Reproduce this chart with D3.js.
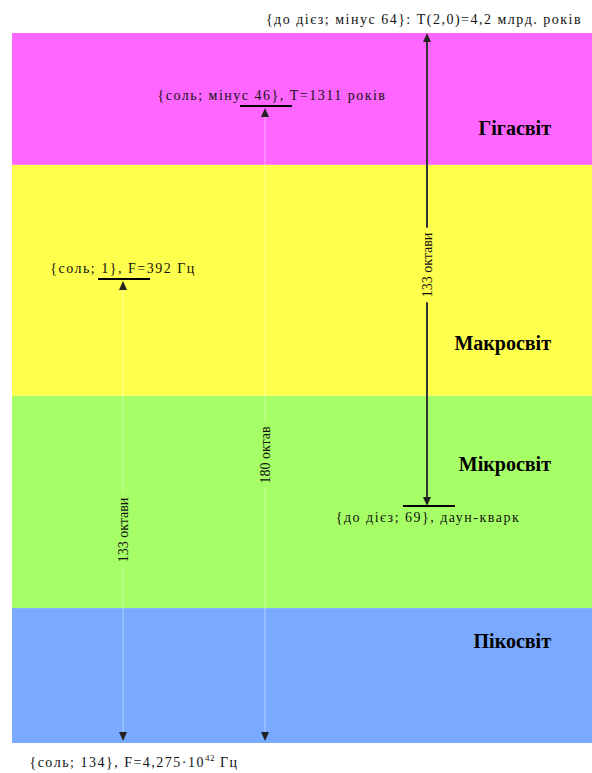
<!DOCTYPE html>
<html><head><meta charset="utf-8">
<script src="https://cdn.jsdelivr.net/npm/d3@7"></script>
<style>html,body{margin:0;padding:0;background:#fff;}svg{display:block;}</style>
</head><body>
<script>
// ---- data (octave positions) ----
const bandNames = ["Гігасвіт", "Макросвіт", "Мікросвіт", "Пікосвіт"];
const bandEdges = [-64, -30, 36, 97, 134];           // octave boundaries of the bands
const bandColors = ["#ff66ff", "#ffff4d", "#a6ff66", "#7aaaff"];
const markNotes = ["{до дієз; мінус 64}: T(2,0)=4,2 млрд. років",
                   "{соль; мінус 46}, T=1311 років",
                   "{соль; 1}, F=392 Гц",
                   "{до дієз; 69}, даун-кварк",
                   "{соль; 134}, F=4,275·10"];
const markOctaves = [-64, -46, 1, 69, 134];
const spanLabels = ["133 октави", "180 октав", "133 октави"];
const spanFrom = [-64, -46, 1];
const spanTo = [69, 134, 134];

// ---- layout ----
const W = 592, H = 773;
const svg = d3.select("body").append("svg").attr("width", W).attr("height", H);
const y = d3.scaleLinear().domain([-64, -46, 1, 69, 134]).range([33, 106, 279, 506, 743]);
const spanX = [427, 265, 123];
const lineCol = ["#333333", "rgba(255,255,255,0.28)", "rgba(255,255,255,0.28)"];
const font = "'Liberation Serif', 'Times New Roman', serif";

// bands
svg.selectAll("rect.band").data(bandNames).join("rect")
  .attr("x", 12).attr("width", W - 12)
  .attr("y", (d, i) => y(bandEdges[i]))
  .attr("height", (d, i) => y(bandEdges[i + 1]) - y(bandEdges[i]))
  .attr("fill", (d, i) => bandColors[i]);

const bandLabelY = [135, 350, 471, 648];
svg.selectAll("text.band").data(bandNames).join("text")
  .attr("x", 551).attr("y", (d, i) => bandLabelY[i])
  .attr("text-anchor", "end").attr("font-family", font)
  .attr("font-weight", "bold").attr("font-size", 20).text(d => d);

// arrows
function arrowHead(x, yy, dir) { // dir -1 up, +1 down; tip at (x,yy)
  svg.append("path")
    .attr("d", `M${x},${yy} L${x - 4},${yy - dir * 9} L${x + 4},${yy - dir * 9} Z`)
    .attr("fill", "#222");
}
spanLabels.forEach((lab, i) => {
  const x = spanX[i], y0 = y(spanFrom[i]), y1 = y(spanTo[i]);
  const mid = i === 0 ? 265 : (i === 1 ? 455 : 530);
  const t = svg.append("text")
    .attr("transform", `translate(${x + 5},${mid}) rotate(-90)`)
    .attr("text-anchor", "middle").attr("font-family", font).attr("font-size", 14)
    .attr("fill", "#111").text(lab);
  const len = t.node().getComputedTextLength();
  const g1 = mid - len / 2 - 5, g2 = mid + len / 2 + 5;
  const sw = i === 0 ? 2 : 1.5;
  svg.insert("line", "text").attr("x1", x).attr("x2", x).attr("y1", y0 + 6).attr("y2", g1)
    .attr("stroke", lineCol[i]).attr("stroke-width", sw);
  svg.insert("line", "text").attr("x1", x).attr("x2", x).attr("y1", g2).attr("y2", y1 - 6)
    .attr("stroke", lineCol[i]).attr("stroke-width", sw);
  if (i === 0) { arrowHead(x, y0, -1); } else { arrowHead(x, y0 + 2, -1); }
  arrowHead(x, i === 0 ? y1 : y1 - 2, 1);
});

// horizontal marker bars
const barX = [null, 266, 124, 429, null];
markOctaves.forEach((o, i) => {
  if (barX[i] !== null) {
    svg.append("line").attr("x1", barX[i] - 26).attr("x2", barX[i] + 26)
      .attr("y1", y(o)).attr("y2", y(o)).attr("stroke", "#000").attr("stroke-width", 2);
  }
});

// note labels
const noteX = [424, 272, 123, 428, 134];
const noteDy = [-9, -6, -6, 16, 24];
markNotes.forEach((n, i) => {
  const t = svg.append("text").attr("x", noteX[i]).attr("y", y(markOctaves[i]) + noteDy[i])
    .attr("text-anchor", "middle").attr("font-family", font).attr("font-size", 14)
    .attr("letter-spacing", 1.5).attr("fill", "#111");
  t.append("tspan").text(n);
  if (i === 4) {
    t.append("tspan").attr("font-size", 9).attr("dy", -6).attr("letter-spacing", 0.5).text("42");
    t.append("tspan").attr("dy", 6).text(" Гц");
  }
});
</script>
</body></html>
